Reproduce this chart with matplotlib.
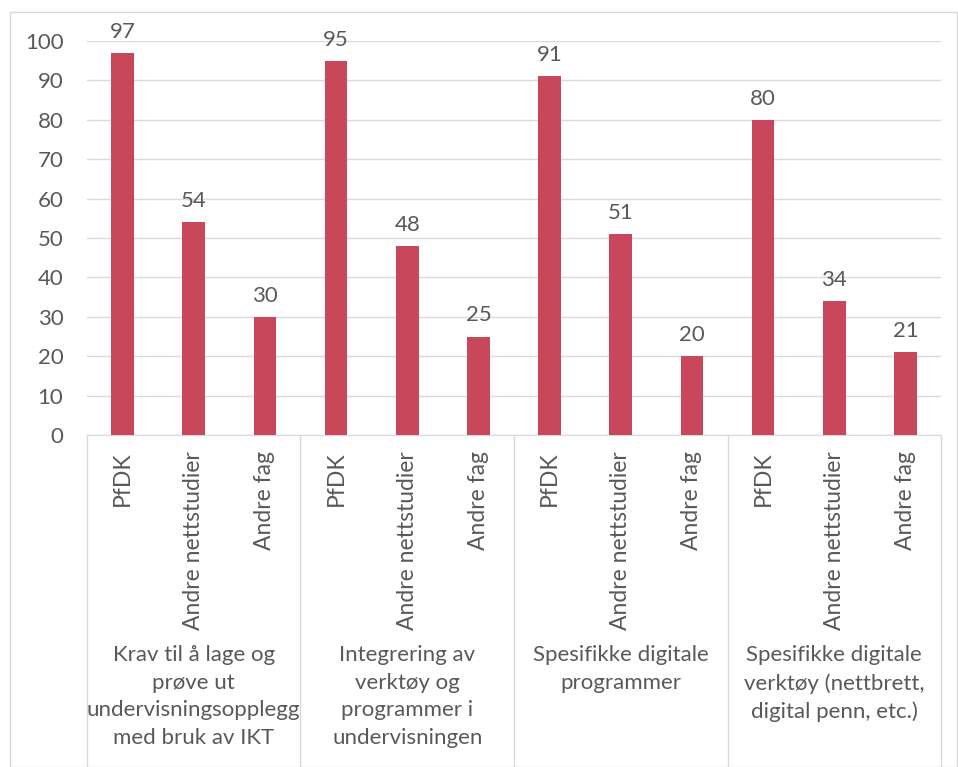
import matplotlib
matplotlib.use("Agg")
import matplotlib.pyplot as plt
from matplotlib.patches import Rectangle
import matplotlib.transforms as mtransforms

plt.rcParams['font.family'] = ['Lato', 'DejaVu Sans']

groups = [
    "Krav til å lage og\nprøve ut\nundervisningsopplegg\nmed bruk av IKT",
    "Integrering av\nverktøy og\nprogrammer i\nundervisningen",
    "Spesifikke digitale\nprogrammer",
    "Spesifikke digitale\nverktøy (nettbrett,\ndigital penn, etc.)",
]
subcats = ["PfDK", "Andre nettstudier", "Andre fag"]
values = [97, 54, 30, 95, 48, 25, 91, 51, 20, 80, 34, 21]

bar_color = "#C8475A"
text_color = "#595959"
grid_color = "#D9D9D9"
fs = 16

W, H = 958, 767
fig = plt.figure(figsize=(W / 100, H / 100), dpi=100)
fig.patches.append(Rectangle((10 / W, 0), (W - 11) / W, 1 - 12 / H, transform=fig.transFigure,
                             fill=False, edgecolor=grid_color, linewidth=1))

ax = fig.add_axes([87 / W, 1 - 435 / H, (941 - 87) / W, (435 - 41) / H])
x = list(range(len(values)))
bars = ax.bar(x, values, width=0.32, color=bar_color, zorder=3)
for xi, v in zip(x, values):
    ax.annotate(str(v), (xi, v), xytext=(0, 8), textcoords="offset points",
                ha="center", va="bottom", fontsize=fs, color=text_color)

ax.set_xlim(-0.5, len(values) - 0.5)
ax.set_ylim(0, 100)
ax.set_yticks(range(0, 101, 10))
ax.yaxis.grid(True, color=grid_color, linewidth=1)
ax.set_axisbelow(True)
for s in ["top", "right", "left"]:
    ax.spines[s].set_visible(False)
ax.spines["bottom"].set_color(grid_color)
ax.tick_params(axis="y", length=0, labelsize=fs, labelcolor=text_color, pad=17)
ax.set_xticks([])

trans = mtransforms.blended_transform_factory(ax.transData, ax.transAxes)
ax_h = 435 - 41
for i in x:
    ax.text(i, -16 / ax_h, subcats[i % 3], transform=trans, rotation=90,
            ha="center", va="top", fontsize=16.5, color=text_color)
for g, label in enumerate(groups):
    ax.text(g * 3 + 1, -210 / ax_h, label, transform=trans, ha="center", va="top",
            fontsize=fs, color=text_color, linespacing=1.48)
for b in range(len(groups) + 1):
    xb = b * 3 - 0.5
    ax.plot([xb, xb], [0, -(H - 435) / ax_h], transform=trans, color=grid_color,
            linewidth=1, clip_on=False)

fig.savefig("out.png", dpi=100)
